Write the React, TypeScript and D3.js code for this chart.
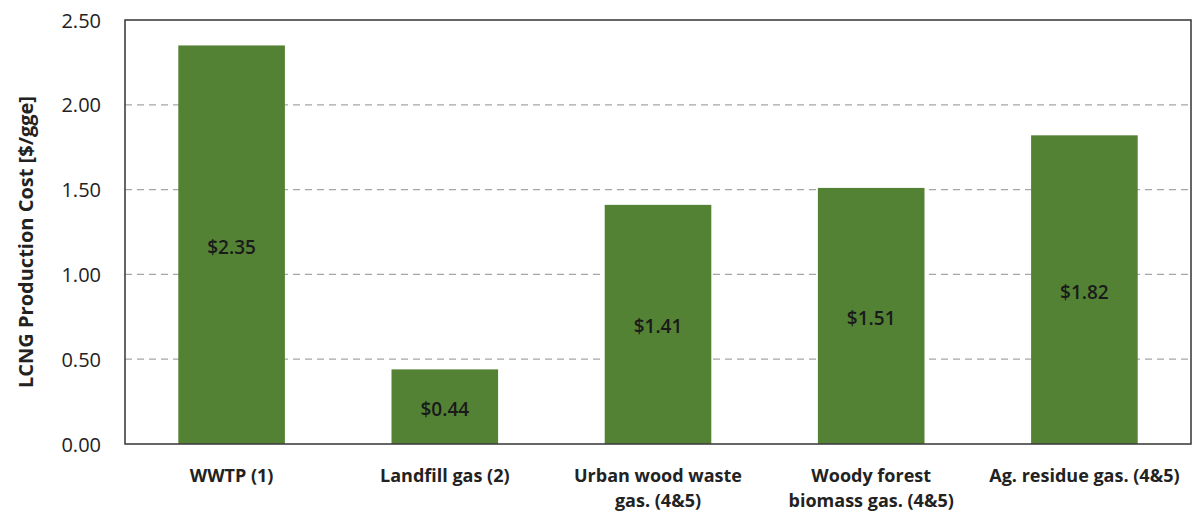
import React from "react";
import * as d3 from "d3";

const categories: string[][] = [
  ["WWTP (1)"],
  ["Landfill gas (2)"],
  ["Urban wood waste", "gas. (4&5)"],
  ["Woody forest", "biomass gas. (4&5)"],
  ["Ag. residue gas. (4&5)"],
];
const values: number[] = [2.35, 0.44, 1.41, 1.51, 1.82];
const valueLabels: string[] = ["$2.35", "$0.44", "$1.41", "$1.51", "$1.82"];
const yTicks: number[] = [0, 0.5, 1.0, 1.5, 2.0, 2.5];
const yTitle = "LCNG Production Cost [$/gge]";

const W = 1194;
const H = 514;
const margin = { left: 125, right: 3, top: 20, bottom: 70 };
const FONT = "'Open Sans', 'Liberation Sans', sans-serif";

export default function App() {
  const x = d3
    .scaleBand<number>()
    .domain(d3.range(categories.length))
    .range([margin.left, W - margin.right])
    .paddingInner(0.5)
    .paddingOuter(0.25);
  const y = d3
    .scaleLinear()
    .domain([0, 2.5])
    .range([H - margin.bottom, margin.top]);
  const fmt = d3.format(".2f");
  const plotW = W - margin.left - margin.right;
  const plotH = H - margin.top - margin.bottom;

  return (
    <svg
      width={W}
      height={H}
      style={{ position: "absolute", left: 0, top: 0, background: "#fff" }}
      fontFamily={FONT}
    >
      {/* gridlines */}
      {yTicks
        .filter((t) => t > 0 && t < 2.5)
        .map((t) => (
          <line
            key={"g" + t}
            x1={margin.left}
            x2={W - margin.right}
            y1={y(t)}
            y2={y(t)}
            stroke="#a6a6a6"
            strokeWidth={1.2}
            strokeDasharray="7,5"
          />
        ))}
      {/* bars */}
      {values.map((v, i) => (
        <rect
          key={"b" + i}
          x={x(i)!}
          y={y(v)}
          width={x.bandwidth()}
          height={y(0) - y(v)}
          fill="#548235"
        />
      ))}
      {/* bar labels */}
      {values.map((v, i) => (
        <text
          key={"l" + i}
          x={x(i)! + x.bandwidth() / 2}
          y={(y(v) + y(0)) / 2 + 2}
          textAnchor="middle"
          dominantBaseline="central"
          fontSize={19}
          fontWeight={600}
          fill="#1a1a1a"
        >
          {valueLabels[i]}
        </text>
      ))}
      {/* frame */}
      <rect
        x={margin.left}
        y={margin.top}
        width={plotW}
        height={plotH}
        fill="none"
        stroke="#404040"
        strokeWidth={1.6}
      />
      {/* y tick labels */}
      {yTicks.map((t) => (
        <text
          key={"t" + t}
          x={101}
          y={y(t)}
          textAnchor="end"
          dominantBaseline="central"
          fontSize={20}
          fill="#222"
        >
          {fmt(t)}
        </text>
      ))}
      {/* category labels */}
      {categories.map((lines, i) => (
        <text
          key={"c" + i}
          x={x(i)! + x.bandwidth() / 2}
          textAnchor="middle"
          fontSize={18}
          fontWeight={700}
          fill="#222"
        >
          {lines.map((ln, j) => (
            <tspan key={j} x={x(i)! + x.bandwidth() / 2} y={482 + j * 25}>
              {ln}
            </tspan>
          ))}
        </text>
      ))}
      {/* y title */}
      <text
        transform={`translate(25,242) rotate(-90)`}
        textAnchor="middle"
        dominantBaseline="central"
        fontSize={20}
        fontWeight={700}
        fill="#222"
      >
        {yTitle}
      </text>
    </svg>
  );
}
